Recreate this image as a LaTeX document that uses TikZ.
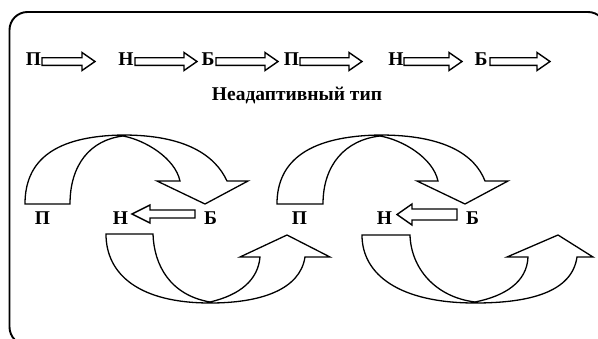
\documentclass[tikz,border=0pt]{standalone}
\usepackage{fontspec}
\setmainfont{Liberation Serif}
\begin{document}
\begin{tikzpicture}[x=1pt,y=-1pt,
  lbl/.style={font=\fontsize{19.5}{19.5}\selectfont\bfseries, inner sep=0pt},
  ttl/.style={font=\fontsize{19.5}{19.5}\selectfont\bfseries, inner sep=0pt},
  blk/.style={draw, line width=1.4pt, line join=miter, fill=white},
  crv/.style={draw, line width=1.3pt, line join=miter},
  frm/.style={draw, line width=1.9pt, rounded corners=18pt}]
\useasboundingbox (0,0) rectangle (598,338);
\fill[white] (0,0) rectangle (598,338);
% frame
\draw[frm] (9.5,12) rectangle (606,345);
% top row
\node[lbl] (tp1) at (33.5,59.5) {П};
\node[lbl] (tn1) at (126,59.5) {Н};
\node[lbl] (tb1) at (208,59.5) {Б};
\node[lbl] (tp2) at (291.5,59.5) {П};
\node[lbl] (tn2) at (396,59.5) {Н};
\node[lbl] (tb2) at (481,59.5) {Б};
\newcommand\rarr[3]{\draw[blk] (#1,#3-3.8) -- (#2-13,#3-3.8) -- (#2-13,#3-9) -- (#2,#3) -- (#2-13,#3+9) -- (#2-13,#3+3.8) -- (#1,#3+3.8) -- cycle;}
\rarr{42}{95}{61.5}
\rarr{135}{197}{61.5}
\rarr{216}{278}{61.5}
\rarr{300}{362}{61.5}
\rarr{404}{462}{61.5}
\rarr{490}{550}{61.5}
\node[ttl] (title) at (297,95) {Неадаптивный тип};
% bottom labels
\node[lbl] (bp1) at (42.5,218.5) {П};
\node[lbl] (bn1) at (120.5,218.5) {Н};
\node[lbl] (bb1) at (210.5,218.5) {Б};
\node[lbl] (bp2) at (299.5,218.5) {П};
\node[lbl] (bn2) at (384.5,218.5) {Н};
\node[lbl] (bb2) at (472.5,218.5) {Б};
% left arrows
\draw[blk] (195,210) -- (150,210) -- (150,205) -- (132,214) -- (150,223) -- (150,218) -- (195,218) -- cycle;
\draw[blk] (457,209) -- (412,209) -- (412,204) -- (397,214.5) -- (412,225) -- (412,220) -- (457,220) -- cycle;
% unit 1 top curved arrow
\draw[crv] (25,204) .. controls (25,160) and (55,136) .. (123,135)
  .. controls (185,135) and (215,155) .. (227,181)
  -- (248,181) -- (205,204) -- (157,181) -- (180,181)
  .. controls (175,158) and (145,140) .. (123,136)
  .. controls (90,140) and (70,165) .. (70,204) -- cycle;
% unit 2 top curved arrow
\draw[crv] (277,204) .. controls (277,160) and (310,136) .. (380,135)
  .. controls (445,135) and (475,155) .. (485,181)
  -- (508,181) -- (465,204) -- (417,181) -- (438,181)
  .. controls (433,158) and (403,140) .. (380,136)
  .. controls (345,140) and (323,165) .. (323,204) -- cycle;
% unit 1 bottom curved arrow
\draw[crv] (106,234) -- (153,234)
  .. controls (154,265) and (170,295) .. (210,302)
  .. controls (240,295) and (258,280) .. (260,257)
  -- (240,257) -- (287,235) -- (330,257) -- (305,257)
  .. controls (300,290) and (260,303) .. (210,303)
  .. controls (140,303) and (106,275) .. (106,234) -- cycle;
% unit 2 bottom curved arrow
\draw[crv] (362,235) -- (410,235)
  .. controls (411,268) and (435,297) .. (475,302)
  .. controls (505,296) and (527,282) .. (528,257)
  -- (507,257) -- (558,235) -- (593,257) -- (577,257)
  .. controls (572,292) and (530,303) .. (475,303)
  .. controls (400,303) and (362,275) .. (362,235) -- cycle;
\end{tikzpicture}
\end{document}
